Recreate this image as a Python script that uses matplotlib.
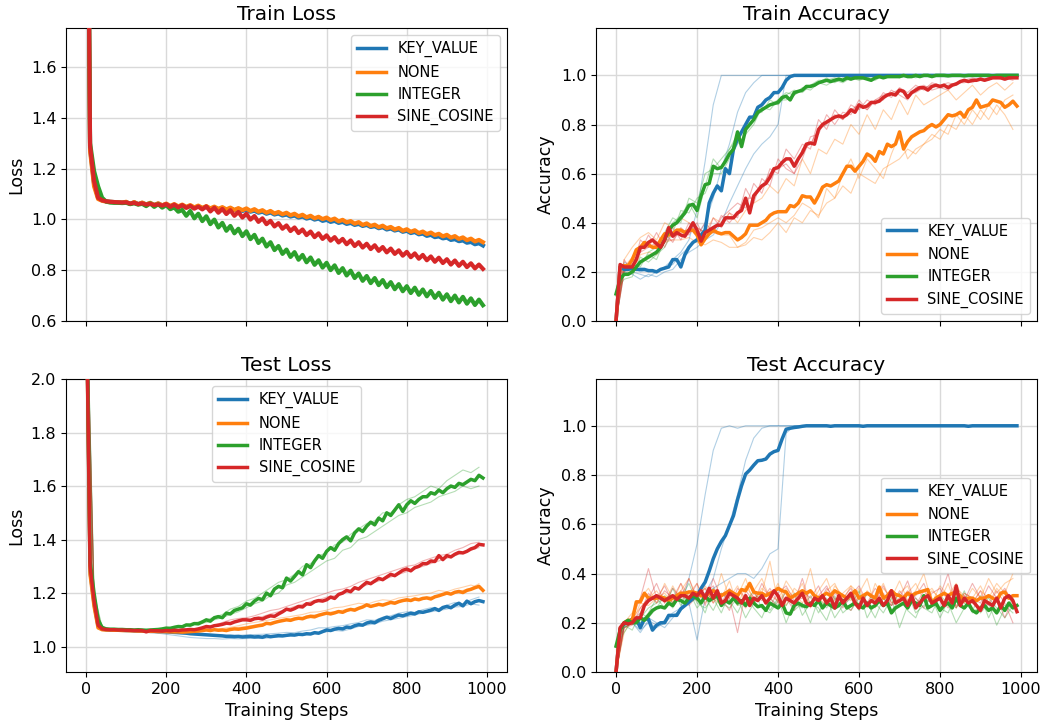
import numpy as np
import matplotlib
matplotlib.use("Agg")
import matplotlib.pyplot as plt

methods = ["KEY_VALUE", "NONE", "INTEGER", "SINE_COSINE"]
colors = ["#1f77b4", "#ff7f0e", "#2ca02c", "#d62728"]
steps = list(range(0, 1000, 10))
seed_steps = list(range(0, 1000, 20))

# ---------------- mean curves (step 10) ----------------
train_loss = {
    "KEY_VALUE": [3.30, 1.28, 1.14, 1.085, 1.075, 1.071, 1.069, 1.068, 1.067, 1.066,
                  1.068, 1.061, 1.067, 1.060, 1.065, 1.059, 1.064, 1.057, 1.062, 1.055,
                  1.060, 1.052, 1.057, 1.050, 1.055, 1.048, 1.053, 1.046, 1.051, 1.044,
                  1.049, 1.042, 1.047, 1.040, 1.045, 1.038, 1.043, 1.036, 1.041, 1.033,
                  1.038, 1.030, 1.034, 1.026, 1.030, 1.022, 1.027, 1.019, 1.023, 1.015,
                  1.019, 1.011, 1.015, 1.007, 1.011, 1.003, 1.007, 0.999, 1.003, 0.994,
                  0.998, 0.990, 0.994, 0.986, 0.990, 0.982, 0.986, 0.978, 0.982, 0.974,
                  0.978, 0.970, 0.973, 0.965, 0.969, 0.960, 0.964, 0.956, 0.960, 0.951,
                  0.955, 0.946, 0.950, 0.941, 0.944, 0.935, 0.939, 0.930, 0.933, 0.925,
                  0.928, 0.919, 0.922, 0.914, 0.917, 0.908, 0.911, 0.902, 0.906, 0.897],
    "NONE": [3.25, 1.27, 1.13, 1.080, 1.073, 1.070, 1.069, 1.068, 1.067, 1.066,
             1.069, 1.060, 1.068, 1.059, 1.066, 1.058, 1.065, 1.056, 1.063, 1.055,
             1.062, 1.053, 1.060, 1.051, 1.058, 1.049, 1.056, 1.047, 1.054, 1.045,
             1.052, 1.043, 1.050, 1.041, 1.048, 1.039, 1.046, 1.037, 1.044, 1.036,
             1.043, 1.033, 1.040, 1.030, 1.036, 1.026, 1.033, 1.023, 1.029, 1.020,
             1.026, 1.016, 1.022, 1.012, 1.018, 1.008, 1.014, 1.004, 1.010, 1.001,
             1.007, 0.997, 1.003, 0.992, 0.998, 0.988, 0.993, 0.983, 0.989, 0.978,
             0.984, 0.974, 0.979, 0.969, 0.975, 0.965, 0.970, 0.960, 0.966, 0.955,
             0.961, 0.951, 0.957, 0.946, 0.952, 0.942, 0.948, 0.938, 0.943, 0.933,
             0.939, 0.928, 0.934, 0.923, 0.929, 0.918, 0.924, 0.913, 0.919, 0.910],
    "INTEGER": [3.35, 1.30, 1.19, 1.13, 1.085, 1.070, 1.066, 1.065, 1.065, 1.064,
                1.065, 1.060, 1.063, 1.058, 1.061, 1.052, 1.063, 1.049, 1.060, 1.046,
                1.056, 1.040, 1.047, 1.030, 1.037, 1.014, 1.033, 1.004, 1.022, 0.993,
                1.012, 0.981, 0.999, 0.968, 0.986, 0.955, 0.974, 0.945, 0.963, 0.934,
                0.953, 0.922, 0.939, 0.907, 0.924, 0.893, 0.910, 0.879, 0.895, 0.864,
                0.881, 0.852, 0.871, 0.841, 0.860, 0.831, 0.850, 0.821, 0.839, 0.810,
                0.829, 0.800, 0.819, 0.789, 0.808, 0.779, 0.798, 0.769, 0.787, 0.758,
                0.777, 0.749, 0.769, 0.741, 0.761, 0.733, 0.753, 0.725, 0.745, 0.717,
                0.737, 0.710, 0.731, 0.703, 0.724, 0.697, 0.718, 0.691, 0.711, 0.684,
                0.705, 0.678, 0.700, 0.673, 0.695, 0.668, 0.689, 0.663, 0.684, 0.662],
    "SINE_COSINE": [3.30, 1.29, 1.15, 1.085, 1.075, 1.071, 1.069, 1.068, 1.067, 1.066,
                    1.067, 1.062, 1.065, 1.060, 1.063, 1.058, 1.061, 1.056, 1.059, 1.054,
                    1.060, 1.049, 1.058, 1.047, 1.056, 1.045, 1.053, 1.042, 1.050, 1.039,
                    1.051, 1.031, 1.046, 1.026, 1.041, 1.021, 1.036, 1.014, 1.029, 1.007,
                    1.022, 0.999, 1.013, 0.990, 1.004, 0.981, 0.994, 0.972, 0.985, 0.963,
                    0.976, 0.954, 0.968, 0.946, 0.960, 0.938, 0.952, 0.930, 0.945, 0.923,
                    0.937, 0.916, 0.930, 0.909, 0.923, 0.902, 0.917, 0.895, 0.910, 0.889,
                    0.904, 0.883, 0.898, 0.876, 0.891, 0.870, 0.885, 0.864, 0.878, 0.857,
                    0.872, 0.851, 0.866, 0.845, 0.860, 0.839, 0.854, 0.833, 0.849, 0.828,
                    0.843, 0.822, 0.838, 0.817, 0.833, 0.812, 0.827, 0.807, 0.822, 0.805],
}

train_acc = {
    "KEY_VALUE": [0.00, 0.22, 0.21, 0.21, 0.215, 0.21, 0.21, 0.21, 0.205, 0.205,
                  0.20, 0.21, 0.215, 0.22, 0.25, 0.25, 0.22, 0.27, 0.30, 0.32,
                  0.33, 0.35, 0.37, 0.48, 0.52, 0.55, 0.53, 0.62, 0.60, 0.70,
                  0.74, 0.77, 0.80, 0.83, 0.83, 0.87, 0.88, 0.90, 0.91, 0.93,
                  0.93, 0.95, 0.98, 0.995, 1.0, 1.0, 1.0, 1.0, 1.0, 1.0,
                  1.0, 1.0, 1.0, 1.0, 1.0, 1.0, 1.0, 1.0, 1.0, 1.0,
                  1.0, 1.0, 1.0, 1.0, 1.0, 1.0, 1.0, 1.0, 1.0, 1.0,
                  1.0, 1.0, 1.0, 1.0, 1.0, 1.0, 1.0, 1.0, 1.0, 1.0,
                  1.0, 1.0, 1.0, 1.0, 1.0, 1.0, 1.0, 1.0, 1.0, 1.0,
                  1.0, 1.0, 1.0, 1.0, 1.0, 1.0, 1.0, 1.0, 1.0, 1.0],
    "NONE": [0.00, 0.22, 0.225, 0.225, 0.25, 0.29, 0.30, 0.32, 0.31, 0.30,
             0.30, 0.33, 0.355, 0.35, 0.355, 0.37, 0.37, 0.36, 0.37, 0.37,
             0.35, 0.31, 0.335, 0.355, 0.37, 0.36, 0.355, 0.36, 0.36, 0.345,
             0.33, 0.34, 0.355, 0.39, 0.39, 0.39, 0.40, 0.41, 0.43, 0.44,
             0.445, 0.445, 0.445, 0.47, 0.465, 0.48, 0.51, 0.505, 0.505, 0.48,
             0.51, 0.545, 0.555, 0.55, 0.56, 0.57, 0.60, 0.63, 0.63, 0.61,
             0.63, 0.65, 0.68, 0.67, 0.65, 0.69, 0.68, 0.72, 0.71, 0.72,
             0.77, 0.70, 0.73, 0.75, 0.76, 0.77, 0.775, 0.79, 0.80, 0.79,
             0.80, 0.82, 0.84, 0.835, 0.84, 0.85, 0.83, 0.86, 0.87, 0.90,
             0.87, 0.875, 0.88, 0.90, 0.895, 0.89, 0.87, 0.88, 0.895, 0.875],
    "INTEGER": [0.11, 0.17, 0.19, 0.19, 0.20, 0.22, 0.24, 0.25, 0.26, 0.27,
                0.28, 0.30, 0.33, 0.37, 0.39, 0.40, 0.42, 0.44, 0.47, 0.475,
                0.45, 0.51, 0.555, 0.56, 0.63, 0.62, 0.625, 0.65, 0.68, 0.70,
                0.77, 0.71, 0.78, 0.80, 0.82, 0.85, 0.86, 0.87, 0.88, 0.885,
                0.89, 0.91, 0.915, 0.90, 0.93, 0.935, 0.94, 0.955, 0.955, 0.96,
                0.97, 0.975, 0.98, 0.975, 0.98, 0.985, 0.98, 0.99, 0.985, 0.99,
                0.99, 0.99, 0.985, 0.98, 0.99, 0.995, 0.99, 0.995, 0.995, 0.995,
                0.995, 1.0, 0.995, 0.995, 1.0, 0.995, 1.0, 1.0, 0.995, 1.0,
                1.0, 1.0, 0.998, 1.0, 1.0, 1.0, 0.998, 1.0, 1.0, 1.0,
                1.0, 1.0, 1.0, 0.998, 1.0, 1.0, 1.0, 1.0, 1.0, 1.0],
    "SINE_COSINE": [0.00, 0.23, 0.22, 0.22, 0.22, 0.25, 0.30, 0.30, 0.32, 0.33,
                    0.315, 0.30, 0.33, 0.38, 0.345, 0.36, 0.35, 0.345, 0.37, 0.40,
                    0.37, 0.325, 0.36, 0.37, 0.38, 0.39, 0.39, 0.42, 0.42, 0.42,
                    0.44, 0.45, 0.50, 0.44, 0.51, 0.53, 0.55, 0.56, 0.585, 0.62,
                    0.625, 0.645, 0.66, 0.66, 0.63, 0.66, 0.685, 0.72, 0.725, 0.72,
                    0.78, 0.80, 0.81, 0.82, 0.83, 0.835, 0.83, 0.84, 0.86, 0.85,
                    0.88, 0.87, 0.875, 0.89, 0.89, 0.895, 0.91, 0.92, 0.925, 0.92,
                    0.94, 0.935, 0.91, 0.93, 0.94, 0.95, 0.95, 0.94, 0.955, 0.96,
                    0.955, 0.96, 0.95, 0.96, 0.965, 0.975, 0.98, 0.975, 0.98, 0.98,
                    0.985, 0.98, 0.985, 0.99, 0.99, 0.99, 0.985, 0.99, 0.99, 0.99],
}

test_loss = {
    "KEY_VALUE": [2.42, 1.28, 1.16, 1.075, 1.065, 1.063, 1.062, 1.062, 1.061, 1.061,
                  1.060, 1.060, 1.059, 1.059, 1.058, 1.058, 1.057, 1.057, 1.056, 1.056,
                  1.055, 1.054, 1.053, 1.052, 1.051, 1.050, 1.048, 1.047, 1.046, 1.045,
                  1.044, 1.043, 1.042, 1.041, 1.040, 1.038, 1.038, 1.037, 1.038, 1.036,
                  1.037, 1.038, 1.036, 1.037, 1.035, 1.040, 1.037, 1.039, 1.041, 1.040,
                  1.042, 1.044, 1.043, 1.046, 1.045, 1.048, 1.047, 1.052, 1.050, 1.056,
                  1.062, 1.060, 1.065, 1.068, 1.066, 1.073, 1.071, 1.078, 1.082, 1.080,
                  1.088, 1.092, 1.089, 1.098, 1.104, 1.110, 1.105, 1.112, 1.118, 1.115,
                  1.120, 1.125, 1.122, 1.130, 1.128, 1.132, 1.136, 1.142, 1.135, 1.146,
                  1.150, 1.145, 1.155, 1.162, 1.152, 1.170, 1.160, 1.168, 1.172, 1.168],
    "NONE": [2.40, 1.27, 1.15, 1.070, 1.063, 1.062, 1.062, 1.061, 1.061, 1.060,
             1.060, 1.059, 1.059, 1.058, 1.058, 1.057, 1.057, 1.057, 1.056, 1.056,
             1.056, 1.055, 1.055, 1.055, 1.054, 1.055, 1.056, 1.057, 1.058, 1.060,
             1.062, 1.060, 1.063, 1.061, 1.062, 1.060, 1.064, 1.066, 1.065, 1.067,
             1.069, 1.072, 1.075, 1.078, 1.080, 1.087, 1.085, 1.090, 1.094, 1.097,
             1.100, 1.098, 1.103, 1.106, 1.104, 1.110, 1.113, 1.111, 1.117, 1.121,
             1.125, 1.122, 1.126, 1.131, 1.128, 1.135, 1.139, 1.136, 1.143, 1.148,
             1.156, 1.150, 1.154, 1.158, 1.155, 1.160, 1.165, 1.162, 1.168, 1.172,
             1.175, 1.172, 1.178, 1.175, 1.180, 1.182, 1.178, 1.186, 1.190, 1.195,
             1.200, 1.196, 1.203, 1.206, 1.202, 1.210, 1.214, 1.220, 1.225, 1.210],
    "INTEGER": [2.45, 1.32, 1.20, 1.100, 1.072, 1.066, 1.065, 1.065, 1.064, 1.064,
                1.063, 1.063, 1.062, 1.063, 1.062, 1.061, 1.062, 1.063, 1.064, 1.066,
                1.069, 1.068, 1.072, 1.075, 1.074, 1.081, 1.080, 1.086, 1.085, 1.092,
                1.100, 1.095, 1.108, 1.112, 1.108, 1.125, 1.122, 1.135, 1.140, 1.145,
                1.160, 1.155, 1.170, 1.180, 1.175, 1.200, 1.190, 1.215, 1.225, 1.220,
                1.256, 1.245, 1.262, 1.280, 1.268, 1.306, 1.295, 1.320, 1.340, 1.330,
                1.356, 1.370, 1.360, 1.385, 1.400, 1.410, 1.395, 1.425, 1.440, 1.430,
                1.450, 1.465, 1.455, 1.480, 1.470, 1.500, 1.490, 1.510, 1.530, 1.505,
                1.530, 1.545, 1.535, 1.550, 1.560, 1.560, 1.575, 1.570, 1.585, 1.575,
                1.590, 1.600, 1.595, 1.610, 1.605, 1.615, 1.625, 1.620, 1.640, 1.630],
    "SINE_COSINE": [2.42, 1.30, 1.17, 1.080, 1.066, 1.064, 1.063, 1.063, 1.062, 1.062,
                    1.061, 1.061, 1.060, 1.060, 1.060, 1.055, 1.060, 1.059, 1.059, 1.058,
                    1.060, 1.059, 1.061, 1.060, 1.062, 1.0625, 1.064, 1.063, 1.066, 1.070,
                    1.075, 1.073, 1.078, 1.080, 1.083, 1.0875, 1.086, 1.092, 1.096, 1.100,
                    1.100, 1.098, 1.104, 1.106, 1.103, 1.110, 1.115, 1.113, 1.122, 1.130,
                    1.140, 1.136, 1.142, 1.150, 1.148, 1.160, 1.158, 1.168, 1.172, 1.170,
                    1.175, 1.185, 1.180, 1.195, 1.200, 1.210, 1.205, 1.220, 1.215, 1.228,
                    1.240, 1.235, 1.245, 1.255, 1.250, 1.260, 1.270, 1.265, 1.275, 1.285,
                    1.290, 1.283, 1.295, 1.300, 1.310, 1.310, 1.320, 1.318, 1.340, 1.325,
                    1.340, 1.335, 1.345, 1.352, 1.350, 1.356, 1.365, 1.370, 1.382, 1.380],
}

test_acc = {
    "KEY_VALUE": [0.00, 0.175, 0.195, 0.20, 0.215, 0.215, 0.18, 0.215, 0.215, 0.17,
                  0.19, 0.20, 0.20, 0.23, 0.23, 0.23, 0.257, 0.27, 0.284, 0.30,
                  0.31, 0.34, 0.365, 0.41, 0.46, 0.50, 0.53, 0.554, 0.595, 0.635,
                  0.70, 0.757, 0.804, 0.82, 0.84, 0.858, 0.86, 0.865, 0.885, 0.895,
                  0.90, 0.946, 0.986, 0.99, 0.993, 0.995, 0.998, 1.0, 1.0, 1.0,
                  1.0, 1.0, 1.0, 0.998, 1.0, 1.0, 1.0, 1.0, 1.0, 1.0,
                  1.0, 0.998, 1.0, 1.0, 1.0, 1.0, 1.0, 1.0, 1.0, 1.0,
                  1.0, 1.0, 1.0, 1.0, 1.0, 1.0, 1.0, 1.0, 1.0, 1.0,
                  1.0, 1.0, 1.0, 1.0, 1.0, 1.0, 1.0, 0.998, 1.0, 1.0,
                  1.0, 1.0, 1.0, 1.0, 1.0, 1.0, 1.0, 1.0, 1.0, 1.0],
    "NONE": [0.00, 0.175, 0.20, 0.21, 0.21, 0.285, 0.285, 0.32, 0.30, 0.30,
             0.30, 0.305, 0.30, 0.29, 0.30, 0.31, 0.32, 0.32, 0.325, 0.325,
             0.32, 0.31, 0.31, 0.32, 0.33, 0.32, 0.31, 0.32, 0.33, 0.32,
             0.31, 0.335, 0.33, 0.36, 0.325, 0.32, 0.32, 0.31, 0.32, 0.325,
             0.34, 0.33, 0.325, 0.30, 0.31, 0.32, 0.33, 0.32, 0.33, 0.31,
             0.30, 0.31, 0.32, 0.31, 0.33, 0.32, 0.31, 0.30, 0.31, 0.33,
             0.30, 0.31, 0.32, 0.31, 0.30, 0.345, 0.30, 0.31, 0.33, 0.315,
             0.31, 0.30, 0.32, 0.31, 0.32, 0.325, 0.33, 0.335, 0.28, 0.30,
             0.31, 0.32, 0.31, 0.32, 0.32, 0.31, 0.29, 0.30, 0.30, 0.29,
             0.30, 0.30, 0.31, 0.30, 0.29, 0.32, 0.325, 0.30, 0.31, 0.31],
    "INTEGER": [0.105, 0.17, 0.20, 0.21, 0.20, 0.20, 0.22, 0.21, 0.23, 0.25,
                0.26, 0.265, 0.26, 0.28, 0.27, 0.295, 0.29, 0.28, 0.30, 0.31,
                0.30, 0.28, 0.31, 0.29, 0.30, 0.31, 0.27, 0.29, 0.28, 0.30,
                0.28, 0.29, 0.27, 0.30, 0.28, 0.265, 0.27, 0.25, 0.28, 0.27,
                0.26, 0.28, 0.24, 0.235, 0.27, 0.28, 0.27, 0.265, 0.28, 0.27,
                0.29, 0.26, 0.28, 0.27, 0.26, 0.27, 0.29, 0.26, 0.27, 0.28,
                0.27, 0.26, 0.28, 0.26, 0.27, 0.29, 0.27, 0.28, 0.24, 0.26,
                0.27, 0.28, 0.26, 0.29, 0.28, 0.27, 0.31, 0.26, 0.27, 0.28,
                0.25, 0.27, 0.28, 0.26, 0.30, 0.27, 0.26, 0.28, 0.25, 0.24,
                0.26, 0.27, 0.25, 0.26, 0.24, 0.27, 0.25, 0.28, 0.26, 0.27],
    "SINE_COSINE": [0.00, 0.18, 0.20, 0.195, 0.20, 0.22, 0.22, 0.27, 0.29, 0.30,
                    0.31, 0.30, 0.29, 0.30, 0.31, 0.295, 0.31, 0.31, 0.30, 0.32,
                    0.31, 0.33, 0.30, 0.34, 0.30, 0.33, 0.28, 0.29, 0.32, 0.31,
                    0.30, 0.28, 0.31, 0.27, 0.30, 0.29, 0.31, 0.28, 0.30, 0.33,
                    0.31, 0.27, 0.30, 0.29, 0.28, 0.30, 0.32, 0.28, 0.27, 0.30,
                    0.29, 0.31, 0.28, 0.30, 0.26, 0.31, 0.28, 0.30, 0.32, 0.28,
                    0.26, 0.30, 0.27, 0.29, 0.28, 0.30, 0.27, 0.29, 0.33, 0.28,
                    0.29, 0.30, 0.27, 0.31, 0.26, 0.28, 0.30, 0.31, 0.28, 0.29,
                    0.30, 0.27, 0.31, 0.28, 0.35, 0.27, 0.30, 0.28, 0.29, 0.27,
                    0.25, 0.29, 0.28, 0.27, 0.30, 0.26, 0.30, 0.31, 0.29, 0.245],
}

# ---------------- individual runs (step 20, thin lines) ----------------
train_acc_runs = {
    "KEY_VALUE": [
        [0, .22, .20, .19, .18, .20, .22, .25, .28, .33, .45, .65, .88, 1.0] + [1.0] * 36,
        [0, .24, .22, .20, .21, .20, .22, .23, .27, .30, .34, .40, .50, .62, .72, .85, .93, .97, 1.0] + [1.0] * 31,
        [0, .20, .19, .17, .19, .18, .20, .21, .25, .28, .30, .33, .35, .40, .48, .55, .62, .68, .72, .75, .80, 1.0] + [1.0] * 28,
    ],
    "NONE": [
        [0, .25, .30, .34, .36, .33, .40, .38, .42, .40, .38, .36, .42, .40, .44, .40, .45, .48, .50, .55,
         .52, .58, .55, .66, .60, .70, .68, .74, .72, .80, .76, .84, .78, .86, .82, .90, .84, .92, .88, .90,
         .92, .94, .90, .93, .96, .92, .95, .97, .94, .97],
        [0, .20, .20, .27, .28, .27, .32, .33, .33, .34, .32, .31, .33, .32, .30, .30, .31, .34, .33, .36,
         .40, .36, .42, .40, .45, .43, .48, .50, .55, .52, .60, .58, .56, .62, .64, .66, .70, .68, .72, .76,
         .74, .80, .78, .84, .80, .86, .82, .88, .84, .78],
        [0, .22, .26, .30, .30, .31, .35, .36, .36, .37, .36, .34, .36, .35, .35, .30, .32, .37, .38, .40,
         .42, .40, .43, .48, .46, .42, .54, .50, .60, .66, .58, .66, .62, .58, .68, .76, .66, .70, .72, .74,
         .78, .76, .84, .80, .86, .82, .88, .84, .90, .92],
    ],
    "INTEGER": [
        [.10, .20, .23, .22, .28, .30, .36, .42, .40, .50, .48, .60, .62, .66, .70, .74, .80, .84, .85, .90,
         .88, .92, .94, .93, .96, .97, .99, .97, .99, .98, 1.0, .99, .98, 1.0, 1.0, .99, 1.0, 1.0, 1.0, 1.0,
         1.0, 1.0, 1.0, 1.0, 1.0, 1.0, 1.0, 1.0, 1.0, 1.0],
        [.12, .17, .18, .26, .24, .27, .30, .36, .45, .44, .50, .52, .60, .60, .66, .72, .76, .80, .87, .86,
         .90, .90, .92, .95, .94, .97, .96, .98, .97, .99, .98, .99, 1.0, .99, 1.0, 1.0, 1.0, .99, 1.0, 1.0,
         1.0, 1.0, 1.0, 1.0, 1.0, 1.0, 1.0, 1.0, 1.0, 1.0],
        [.11, .19, .20, .24, .27, .25, .33, .40, .43, .48, .42, .55, .66, .62, .70, .76, .78, .82, .86, .88,
         .90, .93, .92, .94, .96, .98, .98, .99, .98, .99, 1.0, 1.0, .99, 1.0, 1.0, 1.0, 1.0, 1.0, 1.0, 1.0,
         1.0, 1.0, 1.0, 1.0, 1.0, 1.0, 1.0, 1.0, 1.0, 1.0],
    ],
    "SINE_COSINE": [
        [0, .25, .20, .33, .30, .36, .30, .38, .33, .40, .35, .40, .36, .42, .45, .48, .46, .56, .52, .62,
         .60, .70, .66, .72, .70, .82, .78, .86, .82, .88, .86, .90, .88, .93, .91, .95, .93, .96, .94, .97,
         .96, .97, .96, .98, .97, .99, .98, 1.0, .99, 1.0],
        [0, .20, .24, .28, .35, .30, .36, .32, .38, .35, .40, .33, .42, .38, .44, .42, .54, .48, .58, .55,
         .66, .62, .60, .66, .75, .76, .84, .80, .85, .84, .90, .86, .90, .90, .94, .92, .90, .95, .96, .94,
         .95, .94, .97, .98, .99, .98, .99, .99, .98, .99],
        [0, .22, .23, .28, .30, .32, .33, .33, .37, .36, .38, .36, .36, .43, .40, .44, .50, .50, .55, .60,
         .62, .64, .60, .70, .72, .78, .80, .84, .82, .86, .88, .86, .90, .92, .93, .94, .92, .93, .95, .96,
         .95, .96, .97, .97, .98, .98, .99, .99, .99, .98],
    ],
}

test_acc_runs = {
    "KEY_VALUE": [
        [0, .20, .22, .20, .22, .20, .18, .22, .26, .38, .52, .72, .90, .99, 1.0, .99] + [1.0] * 34,
        [0, .19, .20, .17, .20, .18, .20, .23, .25, .28, .30, .32, .38, .50, .60, .72, .86, .95, .99] + [1.0] * 31,
        [0, .18, .20, .16, .21, .19, .21, .24, .26, .28, .13, .30, .34, .36, .38, .40, .40, .38, .42, .48,
         .50, .97] + [1.0] * 28,
    ],
    "NONE": [
        [0, .20, .24, .30, .34, .28, .36, .30, .33, .38, .30, .34, .28, .40, .30, .35, .28, .33, .38, .30,
         .36, .27, .34, .31, .42, .28, .33, .36, .29, .35, .32, .38, .26, .34, .30, .37, .29, .33, .40, .28,
         .35, .31, .36, .28, .34, .30, .38, .32, .36, .38],
        [0, .16, .22, .26, .30, .33, .28, .35, .29, .32, .36, .28, .33, .30, .37, .27, .35, .30, .32, .45,
         .28, .34, .30, .36, .26, .33, .38, .29, .32, .35, .27, .33, .30, .36, .28, .32, .35, .27, .31, .34,
         .29, .36, .26, .32, .30, .35, .28, .34, .30, .29],
        [0, .18, .20, .28, .27, .30, .32, .28, .36, .31, .29, .35, .30, .27, .33, .31, .38, .28, .34, .31,
         .29, .37, .32, .28, .33, .30, .27, .35, .31, .29, .34, .26, .36, .30, .33, .28, .32, .36, .29, .33,
         .30, .27, .34, .31, .28, .33, .30, .36, .32, .40],
    ],
    "INTEGER": [
        [.10, .18, .20, .22, .26, .28, .30, .26, .32, .28, .30, .24, .34, .28, .26, .30, .22, .28, .32, .25,
         .30, .20, .28, .26, .31, .24, .30, .22, .27, .30, .25, .32, .28, .24, .30, .18, .27, .30, .26, .24,
         .31, .28, .20, .26, .30, .24, .28, .19, .26, .30],
        [.11, .16, .21, .20, .24, .30, .26, .34, .27, .33, .26, .30, .25, .32, .29, .24, .31, .26, .22, .30,
         .27, .33, .25, .28, .20, .30, .26, .31, .24, .27, .33, .22, .28, .30, .25, .29, .32, .24, .27, .30,
         .22, .29, .26, .33, .24, .27, .30, .26, .22, .27],
        [.10, .19, .17, .24, .22, .26, .31, .28, .30, .36, .28, .26, .30, .24, .32, .27, .28, .33, .26, .24,
         .29, .27, .32, .23, .28, .26, .21, .30, .27, .25, .30, .28, .22, .30, .27, .32, .25, .22, .30, .28,
         .26, .24, .32, .28, .25, .31, .22, .29, .27, .24],
    ],
    "SINE_COSINE": [
        [0, .20, .22, .30, .42, .30, .35, .28, .33, .30, .36, .27, .38, .30, .25, .34, .30, .28, .36, .30,
         .26, .33, .28, .38, .27, .31, .35, .28, .30, .34, .26, .32, .29, .35, .28, .30, .37, .27, .33, .29,
         .31, .40, .26, .32, .30, .28, .35, .30, .22, .30],
        [0, .18, .19, .26, .30, .36, .28, .34, .30, .38, .29, .32, .35, .28, .34, .30, .26, .32, .29, .34,
         .28, .30, .25, .33, .30, .35, .27, .32, .29, .25, .31, .28, .34, .30, .27, .33, .29, .31, .36, .28,
         .30, .26, .33, .29, .36, .30, .27, .33, .28, .20],
        [0, .19, .21, .24, .32, .28, .33, .30, .36, .27, .31, .34, .28, .32, .30, .16, .33, .29, .31, .27,
         .32, .35, .29, .30, .33, .28, .34, .30, .26, .31, .35, .28, .30, .32, .27, .29, .33, .30, .26, .32,
         .34, .29, .27, .31, .28, .33, .25, .30, .34, .28],
    ],
}

test_loss_runs = {
    "KEY_VALUE": [
        [2.40, 1.15, 1.064, 1.061, 1.060, 1.058, 1.056, 1.054, 1.052, 1.050, 1.046, 1.042, 1.038, 1.034,
         1.032, 1.030, 1.030, 1.028, 1.030, 1.029, 1.030, 1.031, 1.030, 1.033, 1.035, 1.038, 1.040, 1.043,
         1.046, 1.050, 1.055, 1.060, 1.058, 1.066, 1.075, 1.080, 1.085, 1.095, 1.100, 1.106, 1.112, 1.118,
         1.125, 1.130, 1.135, 1.140, 1.148, 1.150, 1.160, 1.155],
        [2.44, 1.17, 1.066, 1.063, 1.062, 1.060, 1.060, 1.059, 1.058, 1.057, 1.057, 1.055, 1.053, 1.050,
         1.048, 1.046, 1.045, 1.043, 1.044, 1.042, 1.044, 1.045, 1.046, 1.048, 1.050, 1.053, 1.052, 1.058,
         1.062, 1.070, 1.070, 1.075, 1.078, 1.085, 1.090, 1.100, 1.098, 1.110, 1.115, 1.125, 1.130, 1.128,
         1.138, 1.145, 1.142, 1.155, 1.165, 1.160, 1.175, 1.185],
    ],
    "NONE": [
        [2.38, 1.14, 1.063, 1.061, 1.060, 1.059, 1.058, 1.057, 1.056, 1.055, 1.054, 1.054, 1.056, 1.058,
         1.060, 1.062, 1.064, 1.068, 1.072, 1.078, 1.085, 1.090, 1.095, 1.100, 1.106, 1.110, 1.115, 1.120,
         1.128, 1.130, 1.136, 1.145, 1.148, 1.155, 1.162, 1.158, 1.168, 1.175, 1.172, 1.182, 1.186, 1.190,
         1.196, 1.200, 1.210, 1.205, 1.215, 1.222, 1.230, 1.220],
        [2.42, 1.16, 1.063, 1.062, 1.061, 1.060, 1.059, 1.058, 1.057, 1.057, 1.056, 1.056, 1.057, 1.058,
         1.060, 1.062, 1.061, 1.064, 1.068, 1.072, 1.075, 1.080, 1.086, 1.090, 1.095, 1.102, 1.106, 1.110,
         1.118, 1.120, 1.128, 1.130, 1.136, 1.140, 1.145, 1.155, 1.150, 1.158, 1.165, 1.170, 1.168, 1.178,
         1.180, 1.186, 1.190, 1.196, 1.200, 1.210, 1.218, 1.235],
    ],
    "INTEGER": [
        [2.45, 1.20, 1.073, 1.066, 1.065, 1.064, 1.062, 1.061, 1.062, 1.064, 1.070, 1.075, 1.078, 1.086,
         1.092, 1.100, 1.110, 1.120, 1.140, 1.150, 1.170, 1.180, 1.200, 1.220, 1.240, 1.250, 1.270, 1.300,
         1.310, 1.340, 1.350, 1.380, 1.390, 1.420, 1.440, 1.460, 1.470, 1.500, 1.500, 1.530, 1.550, 1.560,
         1.580, 1.600, 1.590, 1.620, 1.640, 1.660, 1.650, 1.670],
        [2.45, 1.19, 1.071, 1.066, 1.064, 1.063, 1.062, 1.062, 1.063, 1.065, 1.068, 1.070, 1.074, 1.080,
         1.085, 1.090, 1.100, 1.108, 1.120, 1.130, 1.145, 1.160, 1.170, 1.190, 1.200, 1.230, 1.240, 1.260,
         1.280, 1.300, 1.320, 1.330, 1.360, 1.370, 1.400, 1.410, 1.430, 1.450, 1.470, 1.490, 1.500, 1.520,
         1.530, 1.540, 1.560, 1.570, 1.580, 1.600, 1.590, 1.600],
    ],
    "SINE_COSINE": [
        [2.42, 1.17, 1.066, 1.063, 1.062, 1.061, 1.060, 1.059, 1.058, 1.059, 1.060, 1.061, 1.062, 1.064,
         1.068, 1.075, 1.080, 1.090, 1.100, 1.105, 1.108, 1.115, 1.125, 1.135, 1.140, 1.150, 1.160, 1.170,
         1.180, 1.190, 1.200, 1.210, 1.215, 1.225, 1.240, 1.250, 1.260, 1.270, 1.280, 1.290, 1.300, 1.305,
         1.320, 1.330, 1.340, 1.345, 1.360, 1.370, 1.385, 1.390],
        [2.42, 1.17, 1.066, 1.064, 1.062, 1.061, 1.060, 1.060, 1.059, 1.058, 1.059, 1.060, 1.061, 1.063,
         1.066, 1.070, 1.075, 1.082, 1.090, 1.095, 1.100, 1.106, 1.112, 1.122, 1.130, 1.140, 1.150, 1.158,
         1.168, 1.175, 1.185, 1.190, 1.200, 1.210, 1.220, 1.230, 1.240, 1.250, 1.260, 1.270, 1.280, 1.290,
         1.300, 1.310, 1.320, 1.330, 1.340, 1.350, 1.360, 1.370],
    ],
}

plt.rcParams["font.family"] = ["DejaVu Sans"]
fig, axes = plt.subplots(2, 2, figsize=(10.46, 7.25), dpi=100, sharex="col")
fig.subplots_adjust(left=0.0631, right=0.9914, bottom=0.0731, top=0.9614,
                    wspace=0.2018, hspace=0.198)

panels = [
    (axes[0, 0], train_loss, None, "Train Loss", "Loss", "upper right", (0.6, 1.753), 3.0),
    (axes[0, 1], train_acc, train_acc_runs, "Train Accuracy", "Accuracy", "lower right", (0.0, 1.193), 2.5),
    (axes[1, 0], test_loss, test_loss_runs, "Test Loss", "Loss", "upper center", (0.905, 2.0), 2.5),
    (axes[1, 1], test_acc, test_acc_runs, "Test Accuracy", "Accuracy", "center right", (0.0, 1.19), 2.5),
]

for ax, data, runs, title, ylabel, loc, ylim, mlw in panels:
    for m, c in zip(methods, colors):
        if runs is not None:
            for r in runs[m]:
                ax.plot(seed_steps[:len(r)], r, color=c, lw=0.8, alpha=0.35, zorder=2)
        ax.plot(steps, data[m], color=c, lw=mlw, label=m, zorder=3)
    ax.set_title(title, fontsize=14.5)
    ax.set_ylabel(ylabel, fontsize=12.5)
    ax.set_ylim(*ylim)
    ax.grid(True, color="#d9d9d9", lw=1.0)
    ax.tick_params(labelsize=11.5)
    leg = ax.legend(loc=loc, fontsize=10.5)
    for h in leg.get_lines():
        h.set_linewidth(2.5)

for ax in axes[1]:
    ax.set_xlabel("Training Steps", fontsize=12.5)
axes[0, 0].set_xlim(-50, 1050)
axes[0, 1].set_xlim(-49.5, 1039.5)
for ax in axes[1]:
    ax.set_xticks([0, 200, 400, 600, 800, 1000])

fig.savefig("out.png", dpi=100)
